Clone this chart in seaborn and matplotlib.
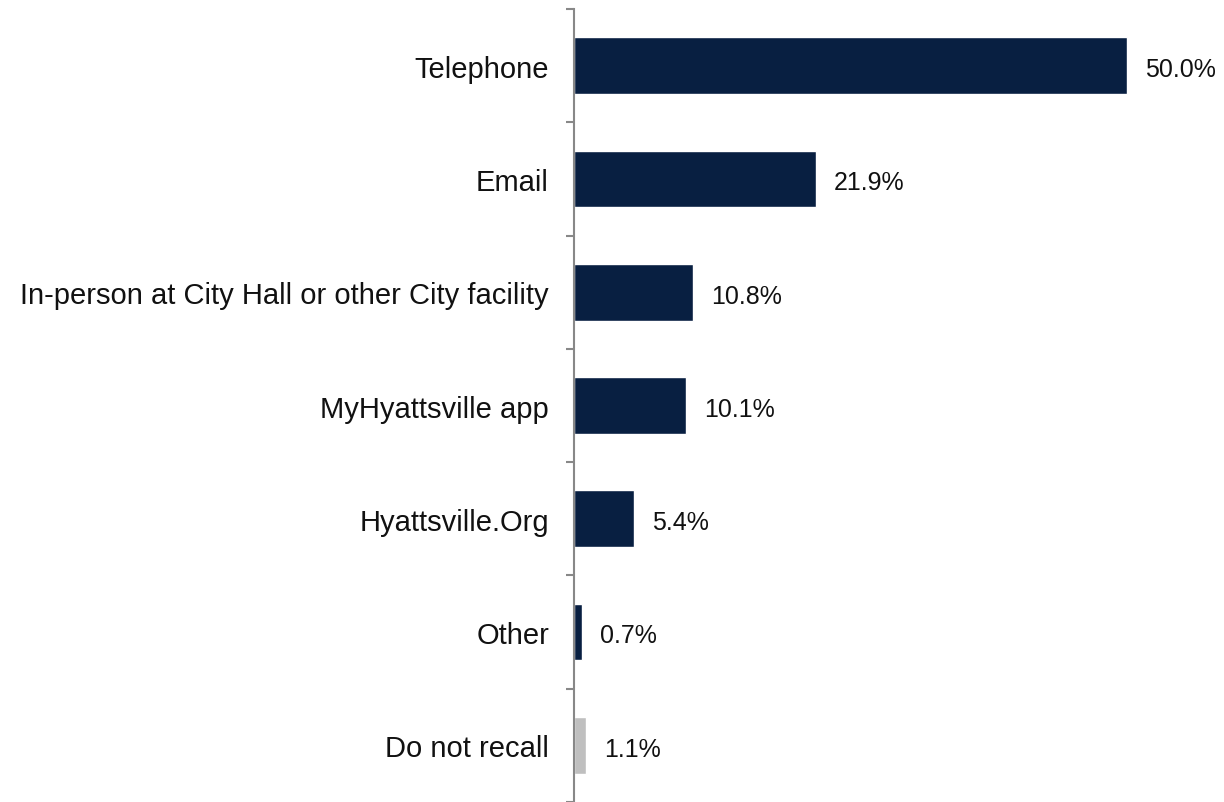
import matplotlib
matplotlib.use("Agg")
import matplotlib.pyplot as plt
import seaborn as sns
import numpy as np
import pandas as pd

categories = ["Telephone", "Email", "In-person at City Hall or other City facility",
              "MyHyattsville app", "Hyattsville.Org", "Other", "Do not recall"]
values = [50.0, 21.9, 10.8, 10.1, 5.4, 0.7, 1.1]
colors = ["#081F41"] * 6 + ["#BFBFBF"]

sns.set_style("white")
plt.rcParams['font.family'] = ['Liberation Sans', 'DejaVu Sans']

df = pd.DataFrame({"cat": categories, "val": values})
fig = plt.figure(figsize=(12.24, 8.03), dpi=100)
ax = fig.add_axes([574/1224, 0, 1 - 574/1224, 1 - 10/803])
sns.barplot(data=df, y="cat", x="val", hue="cat", palette=colors, legend=False,
            orient="h", width=0.5, ax=ax, saturation=1)

scale = 553 / 50.0
ax.set_xlim(0, 650 / scale)
ax.set_ylim(len(categories) - 0.5, -0.5)
for i, v in enumerate(values):
    ax.text(v + 18 / scale, i + 0.03, f"{v:.1f}%", va="center", ha="left", fontsize=18, color="#111111")

for s in ["top", "right", "bottom"]:
    ax.spines[s].set_visible(False)
ax.spines["left"].set_color("#888888")
ax.spines["left"].set_linewidth(1.5)
ax.set_xticks([])
ax.set_xlabel("")
ax.set_ylabel("")
ax.set_yticks(range(len(categories)))
ax.set_yticklabels(categories, fontsize=21, color="#111111")
ax.tick_params(axis="y", which="major", length=0, pad=18)
ax.set_yticks(np.arange(-0.5, len(categories), 1), minor=True)
ax.tick_params(axis="y", which="minor", length=6, width=1.5, color="#888888", left=True)

fig.savefig("out.png", dpi=100)
